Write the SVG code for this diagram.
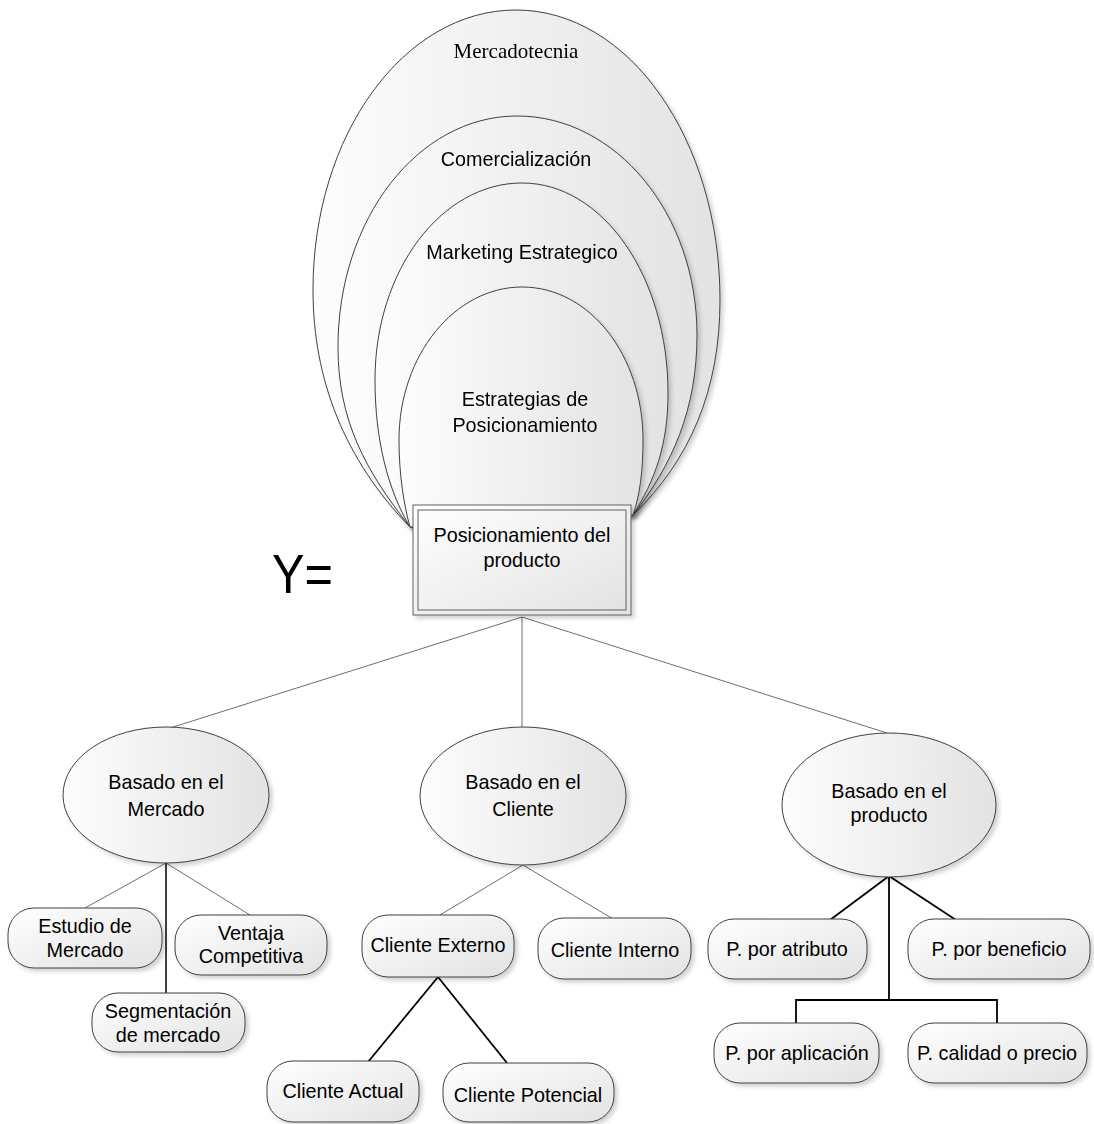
<svg xmlns="http://www.w3.org/2000/svg" width="1094" height="1124" viewBox="0 0 1094 1124">
<defs>
  <linearGradient id="gH" x1="0" y1="0" x2="1" y2="0">
    <stop offset="0" stop-color="#fdfdfd"/>
    <stop offset="1" stop-color="#e3e3e3"/>
  </linearGradient>
  <linearGradient id="gD" x1="0" y1="0" x2="1" y2="1">
    <stop offset="0" stop-color="#ffffff"/>
    <stop offset="1" stop-color="#e2e2e2"/>
  </linearGradient>
  <filter id="sh" x="-10%" y="-10%" width="130%" height="130%">
    <feDropShadow dx="3" dy="3" stdDeviation="2" flood-color="#000" flood-opacity="0.18"/>
  </filter>
</defs>
<style>
  .egg { fill: url(#gH); stroke: #404040; stroke-width: 1; }
  .node { fill: url(#gD); stroke: #404040; stroke-width: 1; filter: url(#sh); }
  .ell { fill: url(#gH); stroke: #404040; stroke-width: 1; filter: url(#sh); }
  .t { font-family: "Liberation Sans", Arial, sans-serif; font-size: 19.8px; fill: #000; text-anchor: middle; }
  .serif { font-family: "Liberation Serif", "Times New Roman", serif; font-size: 21px; fill: #000; text-anchor: middle; }
  .thin { stroke: #6e6e6e; stroke-width: 1; fill: none; }
  .thick { stroke: #000; stroke-width: 1.8; fill: none; }
</style>
<rect width="1094" height="1124" fill="#ffffff"/>

<g id="connectors">
  <line class="thin" x1="522" y1="617" x2="170" y2="728"/>
  <line class="thin" x1="522" y1="617" x2="522" y2="727"/>
  <line class="thin" x1="522" y1="617" x2="887" y2="733"/>
  <line class="thin" x1="166" y1="863" x2="85" y2="908"/>
  <line class="thin" x1="166" y1="863" x2="250" y2="915"/>
  <line class="thick" x1="166" y1="863" x2="166" y2="993" style="stroke-width:1.5"/>
  <line class="thin" x1="523" y1="865" x2="440" y2="915"/>
  <line class="thin" x1="523" y1="865" x2="613" y2="919"/>
  <line class="thick" x1="438" y1="977" x2="368" y2="1062"/>
  <line class="thick" x1="438" y1="977" x2="507" y2="1063"/>
  <line class="thick" x1="889" y1="876" x2="830" y2="920"/>
  <line class="thick" x1="889" y1="876" x2="956" y2="920"/>
  <polyline class="thick" points="889,876 889,1000"/>
  <polyline class="thick" points="796,1023 796,1000 997,1000 997,1023"/>
</g>

<g id="mercadotecnia" filter="url(#sh)">
  <path class="egg" d="M410,527 C345,460 313,380 313,290 C313,135 404,10 516,10 C629,10 720,140 720,300 C720,390 690,460 633,515 Z"/>
  <text class="serif" x="516" y="58">Mercadotecnia</text>
</g>
<g id="comercializacion" filter="url(#sh)">
  <path class="egg" d="M410,527 C365,470 338,420 338,347 C338,219 418,116 517,116 C616,116 697,214 697,335 C697,410 672,465 633,515 Z"/>
  <text class="t" x="516" y="166">Comercialización</text>
</g>
<g id="marketing" filter="url(#sh)">
  <path class="egg" d="M410,527 C388,490 375,440 375,380 C375,271 441,183 522,183 C603,183 668,277 668,393 C668,445 655,480 633,515 Z"/>
  <text class="t" x="522" y="259">Marketing Estrategico</text>
</g>
<g id="estrategias" filter="url(#sh)">
  <path class="egg" d="M410,527 C404,505 399,475 399,440 C399,355 455,287 522,287 C590,287 643,356 643,440 C643,470 640,495 633,515 Z"/>
  <text class="t" x="525" y="406">Estrategias de</text>
  <text class="t" x="525" y="432">Posicionamiento</text>
</g>

<g id="posicionamiento">
  <rect x="413" y="505" width="218" height="110" fill="url(#gD)" stroke="#606060" stroke-width="1" filter="url(#sh)"/>
  <rect x="418" y="510" width="208" height="100" fill="none" stroke="#606060" stroke-width="1"/>
  <text class="t" x="522" y="542">Posicionamiento del</text>
  <text class="t" x="522" y="567">producto</text>
</g>

<g id="y-label">
  <text x="272" y="593" textLength="61" lengthAdjust="spacingAndGlyphs" style="font-family:'Liberation Sans', Arial, sans-serif; font-size:55px; fill:#000">Y=</text>
</g>

<g id="basado-mercado">
  <ellipse class="ell" cx="166" cy="795" rx="103" ry="68"/>
  <text class="t" x="166" y="789">Basado en el</text>
  <text class="t" x="166" y="816">Mercado</text>
</g>
<g id="basado-cliente">
  <ellipse class="ell" cx="523" cy="796" rx="103" ry="69"/>
  <text class="t" x="523" y="789">Basado en el</text>
  <text class="t" x="523" y="816">Cliente</text>
</g>
<g id="basado-producto">
  <ellipse class="ell" cx="889" cy="805" rx="107" ry="72"/>
  <text class="t" x="889" y="798">Basado en el</text>
  <text class="t" x="889" y="822">producto</text>
</g>

<g id="estudio">
  <rect class="node" x="8" y="908" width="154" height="60" rx="26"/>
  <text class="t" x="85" y="933">Estudio de</text>
  <text class="t" x="85" y="957">Mercado</text>
</g>
<g id="ventaja">
  <rect class="node" x="175" y="915" width="152" height="60" rx="26"/>
  <text class="t" x="251" y="940">Ventaja</text>
  <text class="t" x="251" y="963">Competitiva</text>
</g>
<g id="segmentacion">
  <rect class="node" x="92" y="993" width="153" height="59" rx="26"/>
  <text class="t" x="168" y="1018">Segmentación</text>
  <text class="t" x="168" y="1042">de mercado</text>
</g>

<g id="cliente-externo">
  <rect class="node" x="362" y="915" width="152" height="62" rx="26"/>
  <text class="t" x="438" y="952">Cliente Externo</text>
</g>
<g id="cliente-interno">
  <rect class="node" x="538" y="918" width="153" height="61" rx="26"/>
  <text class="t" x="615" y="957">Cliente Interno</text>
</g>
<g id="cliente-actual">
  <rect class="node" x="267" y="1061" width="152" height="61" rx="26"/>
  <text class="t" x="343" y="1098">Cliente Actual</text>
</g>
<g id="cliente-potencial">
  <rect class="node" x="443" y="1063" width="171" height="59" rx="26"/>
  <text class="t" x="528" y="1102">Cliente Potencial</text>
</g>

<g id="p-atributo">
  <rect class="node" x="708" y="919" width="159" height="60" rx="26"/>
  <text class="t" x="787" y="956">P. por atributo</text>
</g>
<g id="p-beneficio">
  <rect class="node" x="908" y="919" width="182" height="60" rx="26"/>
  <text class="t" x="999" y="956">P. por beneficio</text>
</g>
<g id="p-aplicacion">
  <rect class="node" x="714" y="1023" width="165" height="60" rx="26"/>
  <text class="t" x="797" y="1060">P. por aplicación</text>
</g>
<g id="p-calidad">
  <rect class="node" x="908" y="1023" width="179" height="60" rx="26"/>
  <text class="t" x="997" y="1060">P. calidad o precio</text>
</g>
</svg>
